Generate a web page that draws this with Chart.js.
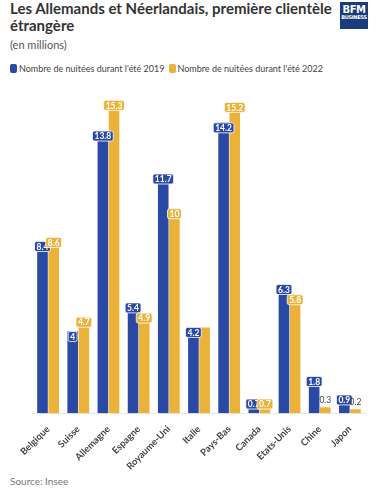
<!DOCTYPE html>
<html>
<head>
<meta charset="utf-8">
<script src="https://cdn.jsdelivr.net/npm/chart.js@4.4.0/dist/chart.umd.min.js"></script>
<style>
  body{margin:0;background:#fff;font-family:Lato,"Noto Sans",sans-serif;}
  #page{position:relative;width:380px;height:492px;overflow:hidden;}
  h1{position:absolute;left:10px;top:0px;width:325px;margin:0;font-size:15px;line-height:17px;font-weight:700;color:#333;}
  .sub{position:absolute;left:10px;top:38px;font-size:11px;color:#555;}
  .legend{position:absolute;left:10px;top:63px;font-size:9px;color:#444;display:flex;align-items:center;}
  .legend i{display:inline-block;width:7px;height:9px;border-radius:2px;margin-right:2px;}
  .legend span{margin-right:4px;}
  .logo{position:absolute;left:340px;top:2px;width:28px;height:27px;background:#1b3c7a;color:#fff;font-weight:900;font-size:9px;line-height:9px;text-align:center;font-family:"DejaVu Sans",sans-serif;}
  .logo b{display:block;font-size:10px;margin-top:3px;letter-spacing:-0.5px;}
  .logo small{display:block;font-size:5px;line-height:6px;letter-spacing:-0.3px;}
  .box{position:absolute;left:0;top:80px;width:380px;height:394px;}
  .src{position:absolute;left:10px;top:475px;font-size:10px;color:#777;}
</style>
</head>
<body>
<div id="page">
  <h1>Les Allemands et Néerlandais, première clientèle étrangère</h1>
  <div class="sub">(en millions)</div>
  <div class="legend"><i style="background:#2a49a4"></i><span>Nombre de nuitées durant l'été 2019</span><i style="background:#ebb23a"></i><span>Nombre de nuitées durant l'été 2022</span></div>
  <div class="logo"><b>BFM</b><small>BUSINESS</small></div>
  <div class="box"><canvas id="myChart"></canvas></div>
  <div class="src">Source: Insee</div>
</div>
<script>
const countries=["Belgique","Suisse","Allemagne","Espagne","Royaume-Uni","Italie","Pays-Bas","Canada","Etats-Unis","Chine","Japon"];
const nuits2019=[8.4,4,13.8,5.4,11.7,4.2,14.2,0.7,6.3,1.8,0.9];
const nuits2022=[8.6,4.7,15.3,4.9,10,4.2,15.2,0.7,5.8,0.3,0.2];
// labels the original chart leaves out (overlap)
const hidden2022=["Italie"];
const blue="#2a49a4", yellow="#ebb23a";

// value labels drawn on top of each bar
const barLabels={
  id:"barLabels",
  afterDatasetsDraw(chart){
    const ctx=chart.ctx;
    ctx.save();
    ctx.textAlign="center";
    ctx.textBaseline="middle";
    chart.data.datasets.forEach((ds,di)=>{
      chart.getDatasetMeta(di).data.forEach((bar,i)=>{
        const v=ds.data[i];
        if(di==1 && hidden2022.includes(countries[i])) return;
        const txt=String(v);
        if(v<0.5){
          ctx.fillStyle="#444";
          ctx.font="8.5px Lato,sans-serif";
          ctx.fillText(txt,bar.x,bar.y-7);
          return;
        }
        ctx.font="bold 8.5px Lato,sans-serif";
        const w=ctx.measureText(txt).width+4, h=10;
        const y=bar.y+h/2;
        ctx.fillStyle=ds.backgroundColor;
        ctx.strokeStyle="#fff";
        ctx.lineWidth=0.8;
        ctx.beginPath();
        ctx.roundRect(bar.x-w/2,y-h/2,w,h,2);
        ctx.fill();ctx.stroke();
        ctx.fillStyle="#fff";
        ctx.fillText(txt,bar.x,y+0.5);
      });
    });
    ctx.restore();
  }
};

new Chart(document.getElementById("myChart"),{
  type:"bar",
  data:{
    labels:countries,
    datasets:[
      {label:"Nombre de nuitées durant l'été 2019",data:nuits2019,backgroundColor:blue,categoryPercentage:0.74,barPercentage:0.95},
      {label:"Nombre de nuitées durant l'été 2022",data:nuits2022,backgroundColor:yellow,categoryPercentage:0.74,barPercentage:0.95}
    ]
  },
  options:{
    responsive:true,
    maintainAspectRatio:false,
    animation:false,
    layout:{padding:{left:33,right:15,top:4,bottom:0}},
    plugins:{legend:{display:false},tooltip:{enabled:false},title:{display:false}},
    scales:{
      x:{
        grid:{display:false},
        border:{color:"#e6e6e6"},
        ticks:{color:"#444",minRotation:45,maxRotation:45,padding:2,font:{size:9.5,weight:"bold",family:"Lato,sans-serif"}}
      },
      y:{display:false,min:0,max:16.1}
    }
  },
  plugins:[barLabels]
});
</script>
</body>
</html>
